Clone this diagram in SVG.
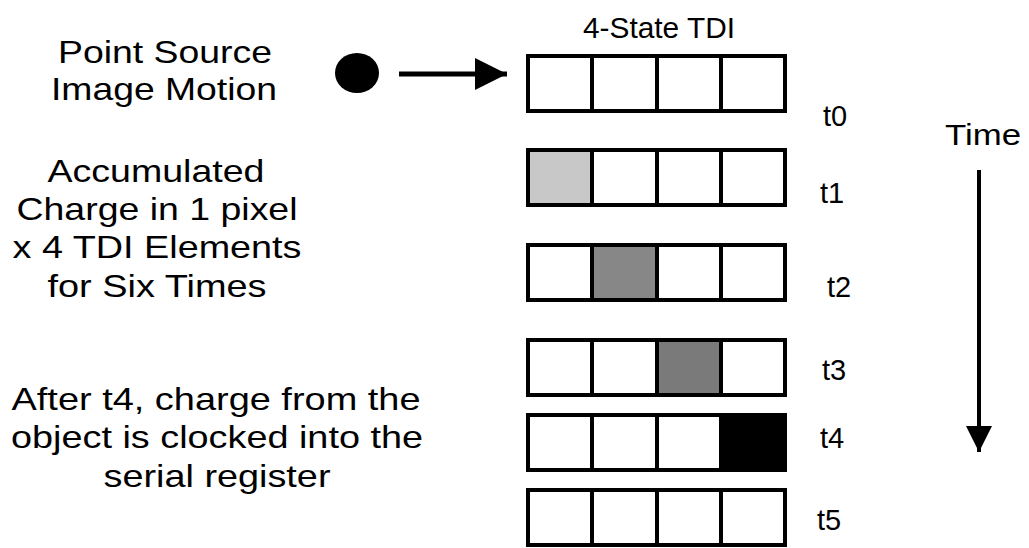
<svg xmlns="http://www.w3.org/2000/svg" width="1029" height="548" viewBox="0 0 1029 548">
<style>
text{font-family:"Liberation Sans",Arial,sans-serif;fill:#000}
.lbl{font-size:32px;text-anchor:middle}
.t{font-size:29px}
.row rect{fill:none;stroke:#000;stroke-width:4}
.row line{stroke:#000;stroke-width:4}
</style>
<defs>
<marker id="ah" viewBox="0 0 10 10" refX="10" refY="5" markerWidth="32" markerHeight="32" markerUnits="userSpaceOnUse" orient="auto">
<path d="M0,0 L10,5 L0,10 Z" fill="#000"/>
</marker>
<marker id="ah2" viewBox="0 0 10 10" refX="10" refY="5" markerWidth="26" markerHeight="26" markerUnits="userSpaceOnUse" orient="auto">
<path d="M0,0 L10,5 L0,10 Z" fill="#000"/>
</marker>
</defs>
<g id="title"><text x="583" y="38" style="font-size:30px" textLength="152" lengthAdjust="spacingAndGlyphs">4-State TDI</text></g>
<g id="label-source">
<text class="lbl" x="165" y="63" textLength="214" lengthAdjust="spacingAndGlyphs">Point Source</text>
<text class="lbl" x="164" y="100" textLength="226" lengthAdjust="spacingAndGlyphs">Image Motion</text>
</g>
<g id="label-accum">
<text class="lbl" x="156" y="182" textLength="217" lengthAdjust="spacingAndGlyphs">Accumulated</text>
<text class="lbl" x="157" y="220" textLength="281" lengthAdjust="spacingAndGlyphs">Charge in 1 pixel</text>
<text class="lbl" x="157" y="258" textLength="289" lengthAdjust="spacingAndGlyphs">x 4 TDI Elements</text>
<text class="lbl" x="157" y="297" textLength="219" lengthAdjust="spacingAndGlyphs">for Six Times</text>
</g>
<g id="label-after">
<text class="lbl" x="216" y="410" textLength="409" lengthAdjust="spacingAndGlyphs">After t4, charge from the</text>
<text class="lbl" x="217" y="448" textLength="412" lengthAdjust="spacingAndGlyphs">object is clocked into the</text>
<text class="lbl" x="217" y="487" textLength="227" lengthAdjust="spacingAndGlyphs">serial register</text>
</g>
<g id="source"><ellipse cx="357" cy="73" rx="22" ry="20" fill="#000"/></g>
<g id="time"><text x="945" y="145" style="font-size:30px" textLength="76" lengthAdjust="spacingAndGlyphs">Time</text></g>
<g id="connectors">
<line x1="399" y1="74" x2="507" y2="74" stroke="#000" stroke-width="5" marker-end="url(#ah)"/>
<line x1="979" y1="170" x2="979" y2="452" stroke="#000" stroke-width="4" marker-end="url(#ah2)"/>
</g>
<g id="row-t0" class="row" transform="translate(528,56)">
<rect x="0" y="0" width="257" height="55"/><line x1="64" y1="0" x2="64" y2="55"/><line x1="129" y1="0" x2="129" y2="55"/><line x1="193" y1="0" x2="193" y2="55"/>
</g>
<g id="row-t1" class="row" transform="translate(528,150)">
<rect x="0" y="0" width="64" height="55" style="fill:#c8c8c8;stroke:none"/>
<rect x="0" y="0" width="257" height="55"/><line x1="64" y1="0" x2="64" y2="55"/><line x1="129" y1="0" x2="129" y2="55"/><line x1="193" y1="0" x2="193" y2="55"/>
</g>
<g id="row-t2" class="row" transform="translate(528,245)">
<rect x="64" y="0" width="65" height="55" style="fill:#878787;stroke:none"/>
<rect x="0" y="0" width="257" height="55"/><line x1="64" y1="0" x2="64" y2="55"/><line x1="129" y1="0" x2="129" y2="55"/><line x1="193" y1="0" x2="193" y2="55"/>
</g>
<g id="row-t3" class="row" transform="translate(528,340)">
<rect x="129" y="0" width="64" height="55" style="fill:#7a7a7a;stroke:none"/>
<rect x="0" y="0" width="257" height="55"/><line x1="64" y1="0" x2="64" y2="55"/><line x1="129" y1="0" x2="129" y2="55"/><line x1="193" y1="0" x2="193" y2="55"/>
</g>
<g id="row-t4" class="row" transform="translate(528,415)">
<rect x="193" y="0" width="64" height="55" style="fill:#000;stroke:none"/>
<rect x="0" y="0" width="257" height="55"/><line x1="64" y1="0" x2="64" y2="55"/><line x1="129" y1="0" x2="129" y2="55"/><line x1="193" y1="0" x2="193" y2="55"/>
</g>
<g id="row-t5" class="row" transform="translate(528,490)">
<rect x="0" y="0" width="257" height="55"/><line x1="64" y1="0" x2="64" y2="55"/><line x1="129" y1="0" x2="129" y2="55"/><line x1="193" y1="0" x2="193" y2="55"/>
</g>
<g id="time-labels">
<text class="t" x="823" y="126">t0</text>
<text class="t" x="820" y="203">t1</text>
<text class="t" x="827" y="297">t2</text>
<text class="t" x="822" y="380">t3</text>
<text class="t" x="820" y="448">t4</text>
<text class="t" x="817" y="530">t5</text>
</g>
</svg>
